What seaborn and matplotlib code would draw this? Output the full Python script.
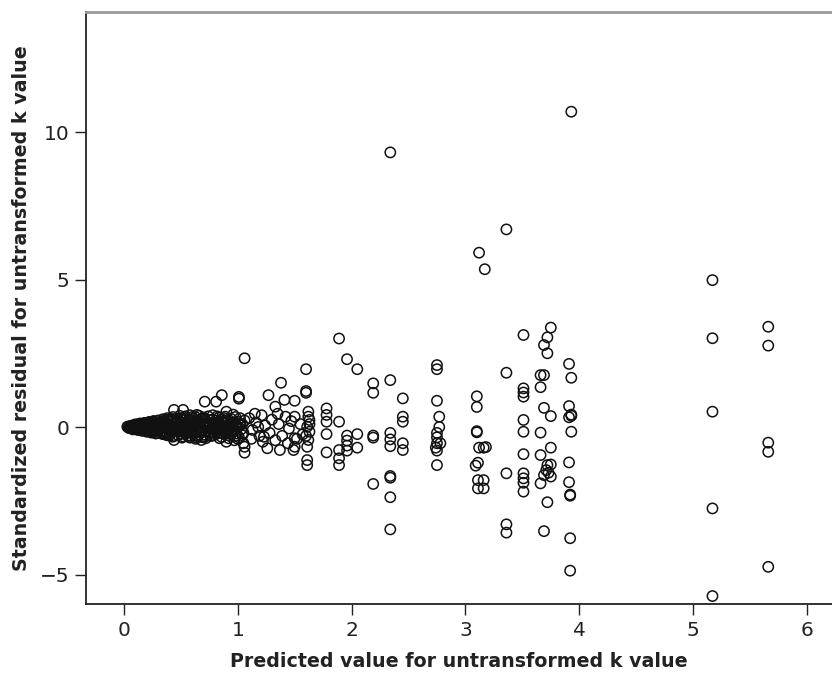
import numpy as np
import pandas as pd
import seaborn as sns
import matplotlib.pyplot as plt

# ---- data: predicted value vs standardized residual ----
# tight core of small predictions
pred_core = [0.03, 0.04, 0.05, 0.05, 0.06, 0.07, 0.07, 0.08, 0.09, 0.10,
             0.10, 0.11, 0.12, 0.12, 0.13, 0.14, 0.14, 0.15, 0.16, 0.17,
             0.17, 0.18, 0.19, 0.20, 0.20, 0.21, 0.22, 0.23, 0.23, 0.24,
             0.25, 0.26, 0.26, 0.27, 0.28, 0.28, 0.29, 0.30, 0.30, 0.31,
             0.32, 0.33, 0.34, 0.34, 0.35, 0.36, 0.37, 0.38, 0.38, 0.39]
resid_core = [0.01, -0.02, 0.03, -0.04, 0.00, 0.05, -0.05, 0.02, -0.03, 0.06,
              -0.07, 0.01, 0.08, -0.06, -0.01, 0.09, -0.09, 0.03, -0.04, 0.11,
              -0.10, 0.02, -0.07, 0.13, -0.12, 0.05, -0.02, 0.16, -0.14, 0.07,
              -0.08, 0.19, -0.17, 0.01, 0.12, -0.11, -0.20, 0.22, 0.04, -0.05,
              0.17, -0.15, 0.26, -0.24, 0.08, -0.02, 0.14, -0.28, 0.30, -0.10]

# extra cases inside the core and band
pred_fill = [0.06, 0.08, 0.09, 0.11, 0.13, 0.15, 0.16, 0.18, 0.19, 0.21,
             0.22, 0.24, 0.25, 0.27, 0.29, 0.31, 0.33, 0.35, 0.36, 0.37,
             0.39, 0.40, 0.41, 0.44, 0.46, 0.47, 0.50, 0.52, 0.53, 0.55,
             0.56, 0.59, 0.61, 0.62, 0.64, 0.65, 0.67, 0.68, 0.70, 0.71,
             0.73, 0.74, 0.76, 0.77, 0.79, 0.80, 0.82, 0.83, 0.85, 0.86,
             0.88, 0.89, 0.91, 0.92, 0.94, 0.95, 0.97, 0.98, 1.00, 1.02]
resid_fill = [-0.01, 0.04, -0.05, -0.03, 0.05, -0.07, 0.07, -0.09, 0.09, -0.06,
              0.10, -0.11, 0.12, -0.13, 0.14, 0.10, 0.05, -0.18, 0.20, -0.15,
              0.18, -0.22, -0.05, -0.15, 0.08, 0.18, -0.24, -0.10, 0.24, 0.05,
              -0.30, -0.14, 0.28, -0.22, 0.20, -0.08, 0.12, -0.18, -0.26, 0.28,
              0.08, -0.12, 0.24, -0.30, 0.10, -0.05, -0.22, 0.16, 0.04, 0.26,
              0.12, -0.16, -0.20, -0.04, 0.28, 0.02, -0.10, -0.30, 0.00, 0.06]

pred_fill2 = [0.08, 0.10, 0.12, 0.14, 0.16, 0.18, 0.20, 0.22, 0.24, 0.26,
              0.28, 0.30, 0.32, 0.34, 0.36, 0.38, 0.40, 0.42, 0.44, 0.46,
              0.48, 0.50, 0.52, 0.54, 0.56, 0.58, 0.60, 0.62, 0.64, 0.66,
              0.68, 0.70, 0.72, 0.74, 0.76, 0.78, 0.80, 0.82, 0.84, 0.86,
              0.88, 0.90, 0.92, 0.94, 0.96, 0.98, 1.00, 1.02, 1.04, 1.05]
resid_fill2 = [-0.08, 0.09, -0.10, 0.12, -0.13, 0.14, -0.16, 0.17, -0.19, 0.20,
               -0.22, -0.12, 0.10, 0.20, -0.25, 0.24, -0.28, 0.28, -0.30, -0.12,
               0.24, 0.30, -0.32, 0.36, -0.16, -0.36, 0.34, 0.18, -0.30, 0.38,
               -0.34, 0.32, -0.38, 0.16, -0.30, 0.40, -0.22, 0.36, -0.10, -0.34,
               0.30, 0.22, -0.38, -0.24, 0.16, 0.34, -0.40, 0.12, -0.28, -0.20]

# wider band up to about 1
pred_band = [0.40, 0.41, 0.42, 0.43, 0.43, 0.44, 0.45, 0.46, 0.47, 0.48,
             0.49, 0.49, 0.50, 0.51, 0.52, 0.53, 0.54, 0.55, 0.56, 0.57,
             0.58, 0.58, 0.59, 0.60, 0.61, 0.62, 0.63, 0.63, 0.64, 0.65,
             0.66, 0.67, 0.68, 0.69, 0.70, 0.71, 0.72, 0.73, 0.74, 0.75,
             0.76, 0.77, 0.78, 0.79, 0.80, 0.81, 0.82, 0.83, 0.84, 0.85,
             0.86, 0.87, 0.88, 0.89, 0.90, 0.91, 0.92, 0.93, 0.94, 0.95,
             0.96, 0.97, 0.98, 0.99, 1.00, 1.01, 1.02, 1.03, 1.04, 1.06,
             0.42, 0.45, 0.48, 0.51, 0.54, 0.57, 0.60, 0.63, 0.66, 0.69,
             0.72, 0.75, 0.78, 0.81, 0.84, 0.87, 0.90, 0.93, 0.96, 0.99]
resid_band = [0.05, 0.21, -0.19, 0.34, -0.33, 0.10, -0.06, 0.26, -0.26, 0.02,
              0.38, -0.15, 0.16, -0.36, 0.07, -0.03, 0.29, -0.22, 0.12, -0.10,
              0.40, -0.30, 0.03, 0.22, -0.17, 0.08, -0.40, 0.33, -0.05, 0.16,
              -0.25, 0.01, 0.27, -0.12, 0.10, -0.33, 0.20, -0.02, 0.36, -0.20,
              0.06, -0.08, 0.25, -0.28, 0.14, -0.14, 0.02, 0.31, -0.38, 0.09,
              -0.04, 0.19, -0.24, 0.35, -0.10, 0.04, 0.24, -0.30, 0.12, -0.16,
              0.42, -0.45, 0.07, -0.22, 0.18, -0.35, 0.30, -0.08, 0.10, 0.22,
              0.00, 0.15, -0.12, 0.09, -0.18, 0.20, -0.08, 0.05, 0.11, 0.30,
              -0.16, 0.12, -0.03, 0.22, -0.20, 0.00, 0.15, -0.06, -0.12, 0.05]

# loose points around the band
pred_edge = [0.44, 0.52, 0.64, 0.90, 0.44, 0.64, 0.68, 0.90, 0.71, 0.81,
             0.86, 1.01, 1.01, 1.06, 1.06, 1.06]
resid_edge = [0.58, 0.58, 0.41, 0.52, -0.44, -0.36, -0.44, -0.50, 0.86, 0.86,
              1.08, 1.02, 0.96, 2.33, -0.67, -0.87]

# predictions between 1 and 1.7
pred_mid = [1.27, 1.33, 1.38, 1.41, 1.50, 1.26, 1.37, 1.49, 1.05, 1.10,
            1.13, 1.16, 1.19, 1.21, 1.24, 1.28, 1.30, 1.33, 1.36, 1.39,
            1.42, 1.45, 1.47, 1.50, 1.52, 1.55, 1.57, 1.12, 1.15, 1.22,
            1.35, 1.44, 1.18, 1.23, 1.50, 1.50,
            1.60, 1.60, 1.60, 1.62, 1.63, 1.62, 1.61, 1.63, 1.62, 1.61,
            1.60, 1.63, 1.61, 1.61]
resid_mid = [1.08, 0.69, 1.50, 0.92, 0.89, -0.72, -0.78, -0.78, -0.55, 0.30,
             -0.10, 0.15, -0.30, 0.40, 0.05, -0.20, 0.25, -0.45, 0.10, -0.30,
             0.35, -0.05, 0.20, 0.35, -0.40, 0.10, -0.25, -0.40, 0.45, -0.50,
             0.45, -0.55, 0.00, -0.33, -0.38, -0.67,
             1.96, 1.22, 1.16, 0.52, 0.24, 0.35, 0.01, -0.16, -0.44, -0.67,
             -0.30, 0.10, -1.12, -1.29]

# predictions between 1.7 and 2.8
pred_upper = [1.78, 1.78, 1.78, 1.78, 1.78,
              1.89, 1.89, 1.89, 1.89, 1.89,
              1.96, 1.96, 1.96, 1.96, 1.96,
              2.05, 2.05, 2.05,
              2.19, 2.19, 2.19, 2.19, 2.19,
              2.34, 2.34, 2.34, 2.34, 2.34, 2.34, 2.34, 2.34, 2.34,
              2.45, 2.45, 2.45, 2.45, 2.45,
              2.75, 2.75, 2.75, 2.75, 2.75, 2.75, 2.74, 2.75, 2.75, 2.77,
              2.77, 2.78]
resid_upper = [0.63, 0.41, 0.18, -0.24, -0.86,
               3.00, 0.18, -0.78, -1.06, -1.29,
               2.30, -0.29, -0.46, -0.63, -0.80,
               1.96, -0.24, -0.70,
               1.48, 1.16, -0.29, -0.36, -1.93,
               9.31, 1.59, -0.20, -0.42, -0.65, -1.66, -1.72, -2.38, -3.47,
               0.97, 0.35, 0.18, -0.55, -0.78,
               2.10, 1.96, 0.89, -0.20, -0.35, -0.55, -0.70, -0.80, -1.29, 0.35,
               0.00, -0.55]

# predictions between 3 and 4
pred_high = [3.12, 3.17, 3.10, 3.10, 3.10, 3.10, 3.12, 3.16, 3.18, 3.09,
             3.11, 3.11, 3.16, 3.11, 3.16,
             3.36, 3.36, 3.36, 3.36, 3.36,
             3.51, 3.51, 3.51, 3.51, 3.51, 3.51, 3.51, 3.51, 3.51, 3.51, 3.51,
             3.75, 3.72, 3.69, 3.72, 3.66, 3.69, 3.66, 3.69, 3.75, 3.66,
             3.75, 3.66, 3.72, 3.71, 3.69, 3.75, 3.75, 3.66, 3.72, 3.69, 3.73,
             3.93, 3.91, 3.93, 3.91, 3.93, 3.91, 3.93, 3.93, 3.91, 3.91,
             3.92, 3.92, 3.92, 3.92]
resid_high = [5.91, 5.35, 1.04, 0.68, -0.14, -0.18, -0.70, -0.70, -0.68, -1.31,
              -1.21, -1.80, -1.80, -2.08, -2.08,
              6.70, 1.84, -1.57, -3.30, -3.58,
              3.12, 1.31, 1.17, 1.03, 0.24, -0.16, -0.92, -1.57, -1.74, -1.89, -2.19,
              3.37, 3.04, 2.78, 2.50, 1.76, 1.76, 1.35, 0.65, 0.37, -0.19,
              -0.70, -0.95, -1.29, -1.46, -1.63, -1.68, -1.27, -1.91, -2.55, -3.53, -1.55,
              10.69, 2.14, 1.67, 0.71, 0.42, 0.33, 0.38, -0.16, -1.20, -1.87,
              -2.29, -2.33, -3.77, -4.87]

# largest predictions
pred_top = [5.17, 5.17, 5.17, 5.17, 5.17, 5.66, 5.66, 5.66, 5.66, 5.66]
resid_top = [4.98, 3.01, 0.52, -2.76, -5.73, 3.40, 2.76, -0.53, -0.84, -4.74]

x_ticks = [0, 1, 2, 3, 4, 5, 6]
y_ticks = [-5, 0, 5, 10]
y_tick_labels = ["\u22125", "0", "5", "10"]
x_label = "Predicted value for untransformed k value"
y_label = "Standardized residual for untransformed k value"

df = pd.DataFrame({
    "pred": pred_core + pred_fill + pred_fill2 + pred_band + pred_edge + pred_mid
            + pred_upper + pred_high + pred_top,
    "resid": resid_core + resid_fill + resid_fill2 + resid_band + resid_edge + resid_mid
             + resid_upper + resid_high + resid_top,
})

sns.set_theme(style="white")
plt.rcParams["font.family"] = ["DejaVu Sans"]

fig = plt.figure(figsize=(8.32, 6.8), dpi=100)
ax = fig.add_axes([86 / 832, 1 - 604 / 680, 1 - 86 / 832, (604 - 12) / 680])

sns.scatterplot(data=df, x="pred", y="resid", ax=ax, marker="o", s=55,
                facecolor="none", edgecolor="#111111", linewidth=1.1, legend=False)

ax.set_xlim(-0.333, 6.22)
ax.set_ylim(-6.0, 14.07)
ax.set_xticks(x_ticks)
ax.set_yticks(y_ticks)
ax.set_yticklabels(y_tick_labels)

for lab in ax.get_xticklabels() + ax.get_yticklabels():
    lab.set_fontsize(14.5)
    lab.set_color("#222222")

ax.tick_params(axis="both", direction="out", length=8, width=1.0, color="#222222",
               bottom=True, left=True, pad=4)

for side in ("left", "bottom"):
    ax.spines[side].set_color("#222222")
    ax.spines[side].set_linewidth(1.3)
ax.spines["top"].set_color("#9a9a9a")
ax.spines["top"].set_linewidth(2.0)
ax.spines["right"].set_visible(False)

ax.set_xlabel(x_label, fontsize=13.7, fontweight="bold", color="#222222", labelpad=9)
ax.set_ylabel(y_label, fontsize=13.7, fontweight="bold", color="#222222", labelpad=6)

fig.savefig("out.png", dpi=100)
